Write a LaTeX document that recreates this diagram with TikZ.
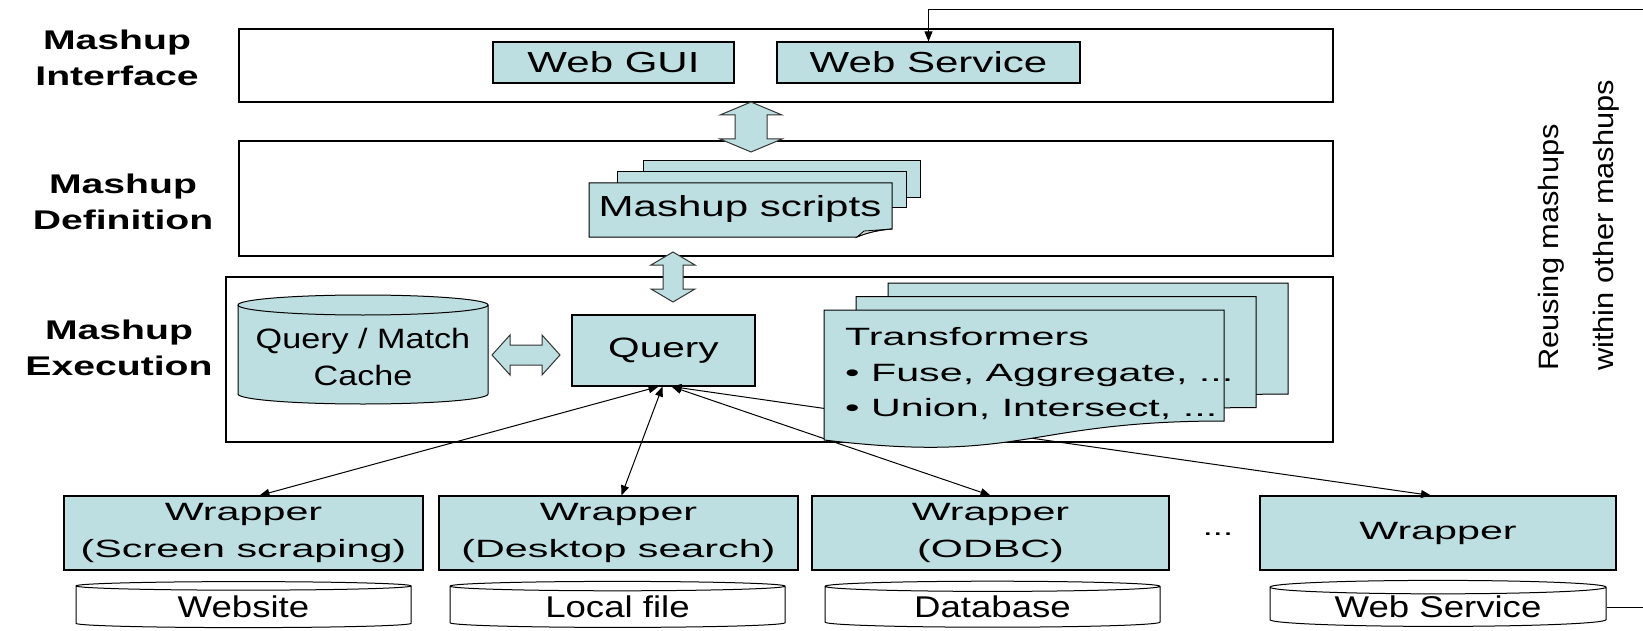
\documentclass[tikz,border=0pt]{standalone}
\usepackage{fontspec}
\setmainfont{Liberation Sans}[FakeStretch=1.45]
\newfontfamily\widefont{Liberation Sans}[FakeStretch=1.65]
\newfontfamily\narrowfont{Liberation Sans}[FakeStretch=1.22]
\newfontfamily\notefont{Liberation Sans}[FakeStretch=1.1]
\usetikzlibrary{arrows.meta,shapes.geometric}
\definecolor{boxfill}{RGB}{190,223,225}

\begin{document}
\begin{tikzpicture}[
  x=1pt, y=-1pt,
  layer/.style={draw=black, line width=1.3pt, inner sep=0pt},
  item/.style={draw=black, line width=1.1pt, fill=boxfill, inner sep=0pt,
    minimum height=41pt, font=\fontsize{29}{34}\selectfont},
  wrapper/.style={item, minimum width=359pt, minimum height=74pt, align=center,
    font=\widefont\fontsize{25}{37}\selectfont},
  store/.style={cylinder, shape border rotate=90, aspect=0.065, draw=black,
    line width=1pt, fill=white, minimum width=335pt, minimum height=46pt,
    inner sep=0pt, font=\narrowfont\fontsize{30}{34}\selectfont},
  layerlabel/.style={align=center, inner sep=0pt,
    font=\bfseries\fontsize{27}{36.5}\selectfont},
  page/.style={draw=black, line width=1pt, fill=boxfill},
  fat/.style={draw=black!80, line width=1pt, fill=boxfill},
  link/.style={{Triangle[length=10pt,width=8pt]}-{Triangle[length=10pt,width=8pt]},
    line width=1pt},
  reuse/.style={-{Triangle[length=10pt,width=8pt]}, line width=1pt}
]
\useasboundingbox (0,0) rectangle (1643,631);
\clip (0,0) rectangle (1643,631);

% layers
\node[layer, minimum width=1094pt, minimum height=73pt] (iface) at (786,65.5) {};
\node[layer, minimum width=1094pt, minimum height=115pt] (defn) at (786,198.5) {};
\node[layer, minimum width=1107pt, minimum height=165pt] (exec) at (779.5,359.5) {};

\node[layerlabel] (lbliface) at (117,58) {Mashup\\Interface};
\node[layerlabel] (lbldefn) at (123,202) {Mashup\\Definition};
\node[layerlabel] (lblexec) at (119,348) {Mashup\\Execution};

% interface
\node[item, minimum width=241pt] (webgui) at (613.5,62.5) {Web GUI};
\node[item, minimum width=303pt] (websvc) at (928.5,62.5) {Web Service};

% definition
\draw[page] (643,161) rectangle (920,198);
\draw[page] (617,172) rectangle (906,208);
\draw[page] (589,183) -- (892,183) -- (892,229)
  .. controls (878,230) and (866,233) .. (857,237) -- (589,237) -- cycle;
\draw[line width=0.8pt, fill=black!15] (857,237) -- (864,231) -- (892,229)
  .. controls (878,230) and (866,233) .. cycle;
\node[font=\fontsize{29}{34}\selectfont] (scripts) at (740,209) {Mashup scripts};

% execution
\draw[page] (238,305) -- (238,394)
  arc[start angle=180, end angle=360, x radius=125pt, y radius=10pt]
  -- (488,305) arc[start angle=0, end angle=180, x radius=125pt, y radius=10pt]
  -- cycle;
\draw[line width=1pt] (238,305)
  arc[start angle=180, end angle=360, x radius=125pt, y radius=10pt];
\node[align=center, inner sep=0pt, font=\narrowfont\fontsize{28}{37}\selectfont]
  (cache) at (363,357) {Query / Match\\Cache};
\node[item, minimum width=183pt, minimum height=71pt,
  font=\fontsize{28}{34}\selectfont] (query) at (663.5,350.5) {Query};

% wrappers and sources
\node[wrapper] (wscrape) at (243.5,533) {Wrapper\\(Screen scraping)};
\node[wrapper] (wdesk) at (618.5,533) {Wrapper\\(Desktop search)};
\node[wrapper, minimum width=357pt] (wodbc) at (990.5,533) {Wrapper\\(ODBC)};
\node[wrapper, minimum width=356pt] (wgen) at (1438,533) {Wrapper};
\node[font=\fontsize{25}{30}\selectfont] (etc) at (1218,534) {...};

\node[store] (dbsite) at (243.5,607) {Website};
\node[store] (dbfile) at (617.5,607) {Local file};
\node[store] (dbbase) at (992.5,607) {Database};
\node[store, minimum width=336pt] (dbws) at (1438,607) {Web Service};

\draw[link] ([xshift=-5pt]query.south) -- ([xshift=16pt]wscrape.north);
\draw[link] ([xshift=-1pt]query.south) -- ([xshift=3pt]wdesk.north);
\draw[link] ([xshift=8pt]query.south) -- (wodbc.north);
\draw[link] ([xshift=8pt]query.south) -- ([xshift=-7pt]wgen.north);

% transformers
\foreach \i in {2,1,0}
  \draw[page, shift={(32*\i,-13.5*\i)}] (824,310) -- (1224,310) -- (1224,421)
    .. controls (1024,421) and (1024,464) .. (824,440) -- cycle;
\node[anchor=west, align=left, inner sep=0pt,
  font=\widefont\fontsize{25}{35.5}\selectfont] (trans) at (845,374)
  {Transformers\\• Fuse, Aggregate, ...\\• Union, Intersect, ...};

% fat arrows between layers
\foreach \c/\a/\b/\s/\h in {751/102/152/16/31, 673/252/302/10/22}
  \draw[fat] (\c,\a) -- (\c+\h,\a+13) -- (\c+\s,\a+13) -- (\c+\s,\b-13)
    -- (\c+\h,\b-13) -- (\c,\b) -- (\c-\h,\b-13) -- (\c-\s,\b-13)
    -- (\c-\s,\a+13) -- (\c-\h,\a+13) -- cycle;
\draw[fat] (492,355) -- (510,335) -- (510,345) -- (542,345) -- (542,335)
  -- (560,355) -- (542,375) -- (542,365) -- (510,365) -- (510,375) -- cycle;

% reuse loop
\node[rotate=90, anchor=north west, align=left, inner sep=0pt,
  font=\notefont\fontsize{28}{55}\selectfont] (reusenote) at (1538,371)
  {Reusing mashups\\within other mashups};
\coordinate (loopcorner) at (1670,10);
\draw[reuse] (dbws.east) -| (loopcorner) -| (websvc.north);
\end{tikzpicture}
\end{document}
